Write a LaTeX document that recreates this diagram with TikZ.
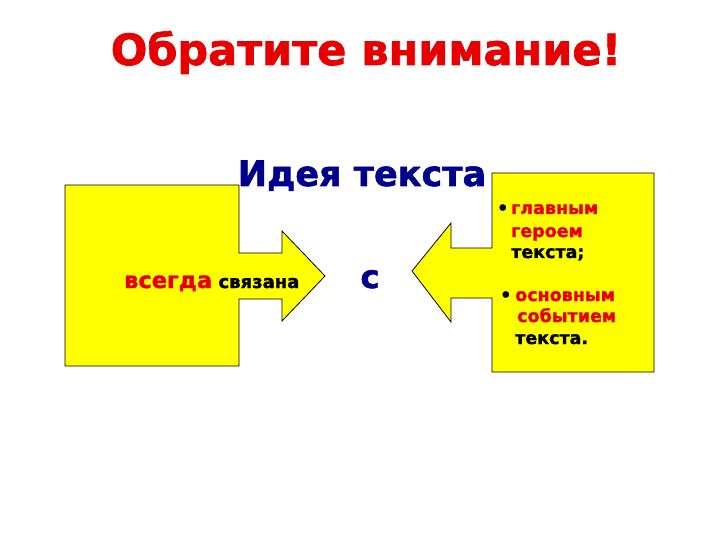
\documentclass[tikz,border=0pt]{standalone}
\usepackage{fontspec}
\setmainfont{DejaVu Sans}[BoldFont={DejaVu Sans Bold}, BoldFeatures={FakeBold=1.6}]
\definecolor{titlered}{RGB}{232,0,0}
\definecolor{ideanavy}{RGB}{0,0,140}
\definecolor{boxyellow}{RGB}{255,255,0}
\begin{document}
\begin{tikzpicture}[
        x=1pt, y=-1pt,
        box/.style={draw=black, fill=boxyellow, line width=0.8pt, line join=miter},
        txt/.style={inner sep=0pt, font=\bfseries},
        redtxt/.style={txt, text=titlered},
        navytxt/.style={txt, text=ideanavy},
        lbl/.style={txt, anchor=base west, font=\bfseries\fontsize{17.5}{17.5}\selectfont},
    ]
    \useasboundingbox (0,0) rectangle (720,540);

    \node[redtxt, font=\bfseries\fontsize{43}{43}\selectfont, anchor=base](title) at (366,65) {Обратите внимание!};
    \node[navytxt, font=\bfseries\fontsize{35}{35}\selectfont, anchor=base](idea) at (362,186) {Идея текста};

    % left arrow box
    \draw[box] (65,185) -- (239,185) -- (239,253) -- (282,253) -- (282,231) -- (325,276)
        -- (282,321) -- (282,299) -- (239,299) -- (239,366) -- (65,366) -- cycle;
    % right arrow box
    \draw[box] (654,173) -- (654,372) -- (492,372) -- (492,298) -- (451,298) -- (451,322)
        -- (412,271) -- (451,223) -- (451,248) -- (492,248) -- (492,173) -- cycle;

    \node[redtxt, anchor=base west, font=\bfseries\fontsize{22.5}{22.5}\selectfont](always) at (124,288) {всегда};
    \node[txt, anchor=base west, font=\bfseries\fontsize{18}{18}\selectfont](linked) at ([xshift=6pt]always.base east) {связана};
    \node[navytxt, anchor=base, font=\bfseries\fontsize{32}{32}\selectfont](with) at (370,288) {с};

    \node[lbl](b1) at (497,214) {•};
    \node[lbl, text=titlered](hero1) at (511,214) {главным};
    \node[lbl, text=titlered](hero2) at (511,237) {героем};
    \node[lbl](hero3) at (511,258) {текста;};
    \node[lbl](b2) at (500,301) {•};
    \node[lbl, text=titlered](event1) at (515,301) {основным};
    \node[lbl, text=titlered](event2) at (517,322) {событием};
    \node[lbl](event3) at (515,344) {текста.};
\end{tikzpicture}
\end{document}
